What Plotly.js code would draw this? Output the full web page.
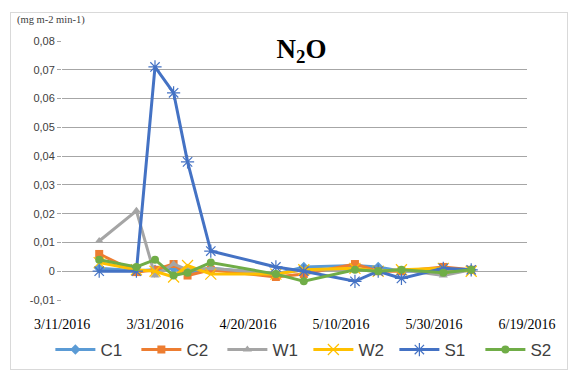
<!DOCTYPE html>
<html><head><meta charset="utf-8">
<script src="https://cdn.plot.ly/plotly-3.0.1.min.js"></script>
<style>
html,body{margin:0;padding:0;background:#fff;}
#wrap{position:relative;width:570px;height:371px;}
#chart{position:absolute;left:0;top:0;width:570px;height:371px;}
#frame{position:absolute;left:10px;top:12px;width:556px;height:356px;border:1px solid #d9d9d9;pointer-events:none;}
</style></head>
<body><div id="wrap"><div id="chart"></div><div id="frame"></div></div>
<script>
const dates = ['2016-03-19','2016-03-27','2016-03-31','2016-04-04','2016-04-07','2016-04-12','2016-04-26','2016-05-02','2016-05-13','2016-05-18','2016-05-23','2016-06-01','2016-06-07'];
const C1 = [0.001, 0.0002, 0.0005, 0.001, -0.0005, 0.001, -0.001, 0.0015, 0.002, 0.0015, 0.0, 0.0, 0.0005];
const C2 = [0.006, -0.0003, 0.0005, 0.0025, -0.0015, 0.0005, -0.002, -0.001, 0.0025, 0.0, 0.0, 0.0015, 0.0005];
const W1 = [0.0105, 0.021, -0.0015, 0.0025, 0.0005, 0.001, -0.001, 0.0005, 0.0005, 0.0, 0.0005, -0.0015, 0.0005];
const W2 = [0.003, 0.0005, 0.0, -0.002, 0.002, -0.001, -0.001, 0.0005, 0.001, 0.0, 0.0005, 0.001, 0.0];
const S1 = [0.0, 0.0, 0.071, 0.062, 0.038, 0.007, 0.0015, 0.0, -0.0035, 0.0, -0.0025, 0.001, 0.0005];
const S2 = [0.004, 0.0015, 0.004, -0.0015, -0.0005, 0.003, -0.001, -0.0035, 0.0005, 0.0, 0.0005, -0.0005, 0.0005];
const seriesNames = ['C1','C2','W1','W2','S1','S2'];
const seriesData = [C1, C2, W1, W2, S1, S2];
const colors = ['#5B9BD5','#ED7D31','#A5A5A5','#FFC000','#4472C4','#70AD47'];
const symbols = ['diamond','square','triangle-up','x-thin-open','asterisk-open','circle'];
const yTickVals = [-0.01,0,0.01,0.02,0.03,0.04,0.05,0.06,0.07,0.08];
const yTickText = ['-0,01','0','0,01','0,02','0,03','0,04','0,05','0,06','0,07','0,08'];
const xTickVals = ['2016-03-11','2016-03-31','2016-04-20','2016-05-10','2016-05-30','2016-06-19'];
const xTickText = ['3/11/2016','3/31/2016','4/20/2016','5/10/2016','5/30/2016','6/19/2016'];

const traces = seriesNames.map((n,i)=>({
  x: dates, y: seriesData[i], name: n, type:'scatter', mode:'lines+markers',
  line:{color:colors[i], width:3},
  marker:{symbol:symbols[i], color:colors[i], size: (symbols[i]==='x-thin-open'||symbols[i]==='asterisk-open')?11:8,
          line:{color:colors[i], width: (symbols[i]==='x-thin-open'||symbols[i]==='asterisk-open')?1.2:0}}
}));

const layout = {
  width:570, height:371,
  margin:{l:62, r:43, t:41, b:71, autoexpand:false},
  paper_bgcolor:'#fff', plot_bgcolor:'#fff',
  showlegend:true,
  title:{text:'N<sub>2</sub>O', font:{family:'Liberation Serif, Times New Roman, serif', size:27, color:'#000', weight:'bold'},
         xref:'paper', x:0.515, xanchor:'center', yref:'container', y:0.87, yanchor:'middle'},
  xaxis:{type:'date', range:['2016-03-11','2016-06-19'], tickvals:xTickVals, ticktext:xTickText,
         showgrid:false, zeroline:false, showline:false, ticks:'', ticklabelstandoff:14,
         tickfont:{family:'Liberation Serif, Times New Roman, serif', size:14, color:'#000'}},
  yaxis:{range:[-0.01,0.08], tickvals:yTickVals, ticktext:yTickText, showgrid:true, gridcolor:'#a6a6a6', gridwidth:1,
         zeroline:false, showline:false, ticks:'outside', ticklen:4, tickcolor:'#a6a6a6',
         tickfont:{family:'Liberation Sans, Arial, sans-serif', size:11, color:'#404040'}},
  legend:{orientation:'h', x:-0.025, xanchor:'left', xref:'paper', y:-0.193, yref:'paper', yanchor:'middle',
          bgcolor:'rgba(0,0,0,0)',
          font:{family:'Liberation Sans, Arial, sans-serif', size:17, color:'#404040'},
          entrywidth:31, entrywidthmode:'pixels', itemwidth:40, tracegroupgap:0},
  annotations:[{text:'(mg m-2 min-1)', xref:'paper', yref:'paper', x:-0.101, y:1.081, xanchor:'left', yanchor:'middle',
                showarrow:false, font:{family:'Liberation Serif, Times New Roman, serif', size:10.5, color:'#404040'}}]
};
Plotly.newPlot('chart', traces, layout, {displayModeBar:false, staticPlot:true});
</script></body></html>
